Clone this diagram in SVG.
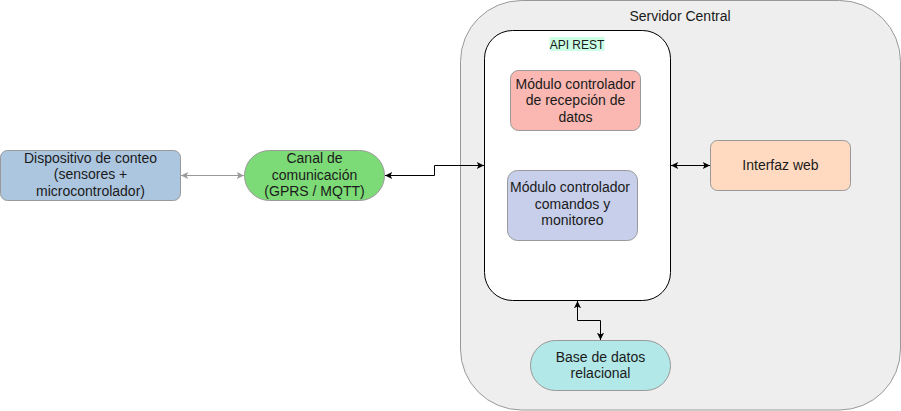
<svg xmlns="http://www.w3.org/2000/svg" width="901" height="411" viewBox="0 0 901 411">
<style>
text{font-family:"Liberation Sans",Arial,Helvetica,sans-serif;font-size:14px;fill:#1a1a1a;text-anchor:middle}
.n{stroke:#999999;stroke-width:1}
.c{fill:none;stroke:#000;stroke-width:1}
.g{fill:none;stroke:#999999;stroke-width:1}
</style>
<defs>
<marker id="ab" viewBox="0 0 10 10" refX="9.5" refY="5" markerWidth="8.5" markerHeight="8.5" markerUnits="userSpaceOnUse" orient="auto-start-reverse">
<path d="M1,0.8 L9.5,5 L1,9.2 L3,5 z" fill="#000"/>
</marker>
<marker id="ag" viewBox="0 0 10 10" refX="9.5" refY="5" markerWidth="8.5" markerHeight="8.5" markerUnits="userSpaceOnUse" orient="auto-start-reverse">
<path d="M1,0.8 L9.5,5 L1,9.2 L3,5 z" fill="#999999"/>
</marker>
</defs>
<g id="servidor-central">
<rect x="460.5" y="0.5" width="440" height="409.5" rx="61" ry="61" fill="#eeeeee" stroke="#999999"/>
<text x="680" y="21">Servidor Central</text>
</g>
<g id="api-rest">
<rect x="484.5" y="30.5" width="186" height="270" rx="28" ry="28" fill="#ffffff" stroke="#000000"/>
<rect x="549.5" y="37" width="55" height="14" fill="#ccffe6"/>
<text x="577" y="48.5" style="font-size:12px">API REST</text>
</g>
<g id="modulo-recepcion">
<rect class="n" x="510.5" y="70.5" width="130" height="60" rx="8" ry="8" fill="#fbb8b2"/>
<text x="575.5" y="88.5">Módulo controlador</text>
<text x="575.5" y="105">de recepción de</text>
<text x="575.5" y="121.5">datos</text>
</g>
<g id="modulo-comandos">
<rect class="n" x="507.5" y="170.5" width="130" height="70" rx="10" ry="10" fill="#c7cfea"/>
<text x="570" y="192">Módulo controlador</text>
<text x="572.5" y="208.5">comandos y</text>
<text x="572.5" y="225">monitoreo</text>
</g>
<g id="interfaz-web">
<rect class="n" x="710.5" y="140.5" width="140" height="50" rx="7" ry="7" fill="#ffdac0"/>
<text x="780.5" y="170">Interfaz web</text>
</g>
<g id="base-datos">
<rect class="n" x="530.5" y="340.5" width="140" height="50" rx="25" ry="25" fill="#b2e8e8"/>
<text x="600.5" y="361.5">Base de datos</text>
<text x="600.5" y="378">relacional</text>
</g>
<g id="dispositivo">
<rect class="n" x="0.5" y="150.5" width="180" height="50" rx="7" ry="7" fill="#adc6e0"/>
<text x="90.5" y="162.5">Dispositivo de conteo</text>
<text x="90.5" y="179">(sensores +</text>
<text x="90.5" y="195.5">microcontrolador)</text>
</g>
<g id="canal">
<rect class="n" x="244.5" y="150.5" width="140" height="50" rx="25" ry="25" fill="#7ddb77"/>
<text x="314.5" y="163">Canal de</text>
<text x="314.5" y="179.5">comunicación</text>
<text x="314.5" y="196">(GPRS / MQTT)</text>
</g>
<g id="connectors">
<path class="g" d="M181,175.5 L244,175.5" marker-start="url(#ag)" marker-end="url(#ag)"/>
<path class="c" d="M385,175.5 L434.5,175.5 L434.5,165.5 L484,165.5" marker-start="url(#ab)" marker-end="url(#ab)"/>
<path class="c" d="M671,165.5 L710,165.5" marker-start="url(#ab)" marker-end="url(#ab)"/>
<path class="c" d="M577.5,301 L577.5,320.5 L600.5,320.5 L600.5,340" marker-start="url(#ab)" marker-end="url(#ab)"/>
</g>
</svg>
